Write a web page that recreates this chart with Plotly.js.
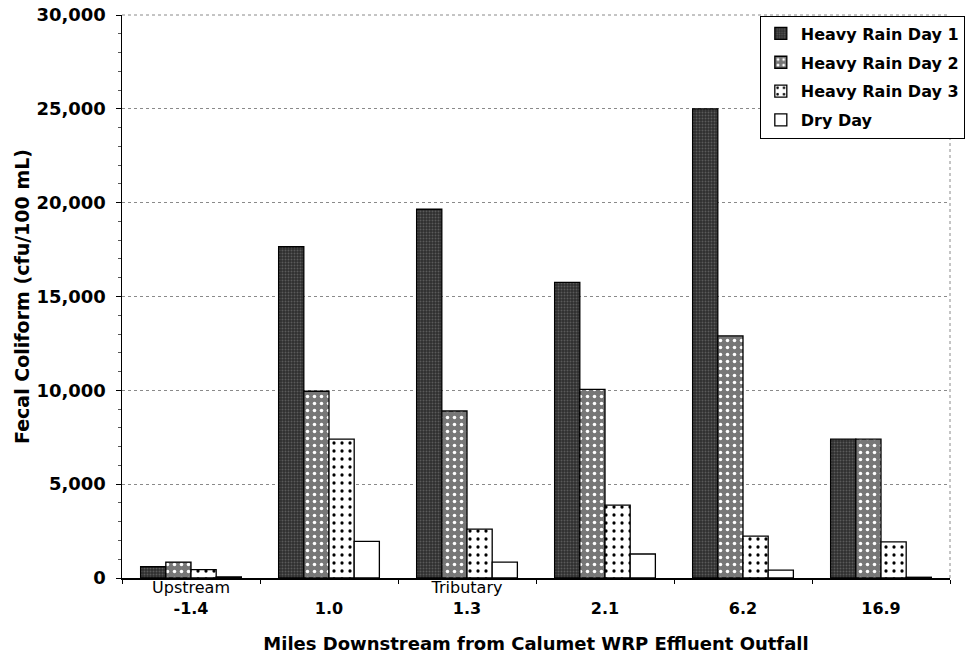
<!DOCTYPE html>
<html>
<head>
<meta charset="utf-8">
<script src="https://cdn.plot.ly/plotly-3.0.1.min.js"></script>
<style>
html,body{margin:0;padding:0;background:#fff;}
#chart{width:977px;height:657px;}
</style>
</head>
<body>
<div id="chart"></div>
<script>
const categories = ["-1.4", "1.0", "1.3", "2.1", "6.2", "16.9"];
const tickLabels = [
  "Upstream<br><b>-1.4</b>",
  "\u00a0<br><b>1.0</b>",
  "Tributary<br><b>1.3</b>",
  "\u00a0<br><b>2.1</b>",
  "\u00a0<br><b>6.2</b>",
  "\u00a0<br><b>16.9</b>"
];
const seriesNames = ["Heavy Rain Day 1", "Heavy Rain Day 2", "Heavy Rain Day 3", "Dry Day"];
const heavyRainDay1 = [600, 17650, 19650, 15750, 25000, 7400];
const heavyRainDay2 = [850, 9950, 8900, 10050, 12900, 7400];
const heavyRainDay3 = [450, 7400, 2600, 3880, 2230, 1930];
const dryDay = [60, 1950, 850, 1280, 420, 40];
const yTicks = [0, 5000, 10000, 15000, 20000, 25000, 30000];

const seriesValues = [heavyRainDay1, heavyRainDay2, heavyRainDay3, dryDay];
const styles = [
  {color: "#2e2e2e", pattern: {shape: ".", bgcolor: "#2e2e2e", fgcolor: "#5a5a5a", size: 3, solidity: 0.35}},
  {color: "#777777", pattern: {shape: ".", bgcolor: "#777777", fgcolor: "#ffffff", size: 7, solidity: 0.2}},
  {color: "#ffffff", pattern: {shape: ".", bgcolor: "#ffffff", fgcolor: "#000000", size: 8, solidity: 0.13}},
  {color: "#ffffff", pattern: {shape: ""}}
];

const traces = seriesValues.map((vals, i) => ({
  type: "bar",
  name: seriesNames[i],
  legendgroup: "g" + i,
  x: categories,
  y: vals,
  marker: {
    color: styles[i].color,
    pattern: styles[i].pattern,
    line: {color: "#000", width: 1.3}
  }
}));

const mainFont = "DejaVu Sans, Liberation Sans, Arial, sans-serif";

const layout = {
  width: 977,
  height: 657,
  margin: {l: 122, r: 15, t: 15, b: 79},
  paper_bgcolor: "#fff",
  plot_bgcolor: "#fff",
  font: {family: mainFont, color: "#000"},
  barmode: "group",
  bargap: 0.27,
  bargroupgap: 0,
  showlegend: true,
  legend: {
    x: 1.0179, y: 0.999, xanchor: "right", yanchor: "top",
    bgcolor: "#fff", bordercolor: "#000", borderwidth: 1,
    font: {size: 16, family: mainFont, weight: "bold"},
    itemwidth: 30,
    tracegroupgap: 5
  },
  xaxis: {
    type: "category",
    tickmode: "array",
    tickvals: categories,
    ticktext: tickLabels,
    tickson: "boundaries",
    ticks: "outside",
    ticklen: 4,
    tickcolor: "#000",
    ticklabelstandoff: -6,
    showline: true,
    linecolor: "#000",
    linewidth: 1.5,
    showgrid: false,
    tickfont: {size: 16},
    title: {
      text: "<b>Miles Downstream from Calumet WRP Effluent Outfall</b>",
      font: {size: 18},
      standoff: 21
    }
  },
  yaxis: {
    range: [0, 30000],
    tickmode: "array",
    tickvals: yTicks,
    ticktext: yTicks.map(v => "<b>" + v.toLocaleString("en-US") + "</b>"),
    ticks: "outside",
    ticklen: 5,
    tickcolor: "#000",
    ticklabelstandoff: 6,
    showline: true,
    linecolor: "#000",
    linewidth: 1.5,
    showgrid: true,
    gridcolor: "#8a8a8a",
    griddash: "dot",
    gridwidth: 1,
    zeroline: false,
    tickfont: {size: 18},
    minor: {dtick: 1000, ticks: "outside", ticklen: 3, tickcolor: "#555", showgrid: false},
    title: {
      text: "<b>Fecal Coliform (cfu/100 mL)</b>",
      font: {size: 19},
      standoff: 2
    }
  },
  shapes: [
    {type: "line", xref: "paper", yref: "paper", x0: 1, x1: 1, y0: 0, y1: 1,
     line: {color: "#8a8a8a", width: 1, dash: "dot"}},
    {type: "line", xref: "paper", yref: "paper", x0: 0, x1: 1, y0: 1, y1: 1,
     line: {color: "#8a8a8a", width: 1, dash: "dot"}}
  ]
};

Plotly.newPlot("chart", traces, layout, {displayModeBar: false, staticPlot: true});
</script>
</body>
</html>
